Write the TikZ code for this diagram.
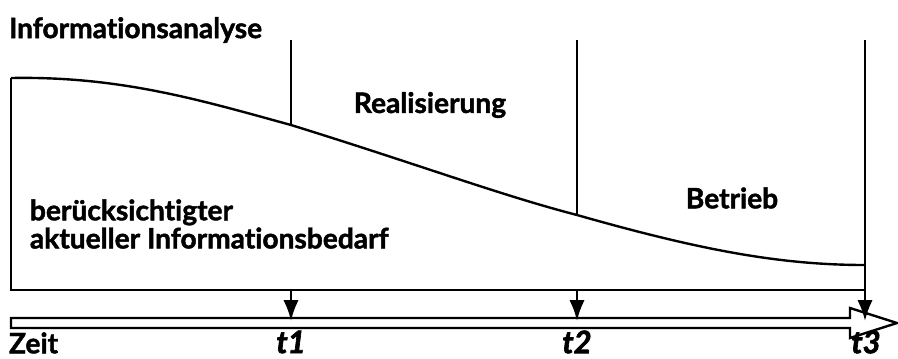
\documentclass[tikz,border=0pt]{standalone}
\usepackage{fontspec}
\setmainfont{Lato}[Ligatures=NoCommon, BoldFeatures={FakeBold=1.6},
    BoldItalicFeatures={FakeBold=2.2}]
\usetikzlibrary{arrows.meta}
\tikzset{
    phase/diagram/.style={
        x=0.025cm, y=-0.025cm,
        line width=1.7pt,
        line cap=butt,
        line join=miter,
        every node/.style={inner sep=0pt, outer sep=0pt}
    },
    phase/label/.style={font=\fontsize{20}{20}\selectfont\bfseries},
    phase/tick/.style={font=\fontsize{22}{24}\selectfont\bfseries\itshape},
    phase/mark/.style={
        line width=1.7pt,
        -{Latex[length=0.52cm, width=0.38cm]}
    }
}
\begin{document}
\begin{tikzpicture}[phase/diagram]
    \useasboundingbox (0,0) rectangle (898,358);
    % border points of the three phases
    \coordinate (top1) at (291,40);
    \coordinate (top2) at (577,40);
    \coordinate (top3) at (865,40);
    \coordinate (cut1) at (291,125);
    \coordinate (cut2) at (577,215);
    \coordinate (base1) at (291,290);
    \coordinate (base2) at (577,290);
    \coordinate (base3) at (865,290);
    \coordinate (bar1) at (291,321);
    \coordinate (bar2) at (577,321);
    \coordinate (bar3) at (865,321);
    % area of the covered information need
    \draw (11,78) .. controls (120,76) and (200,100) .. (cut1)
        .. controls (420,165) and (500,195) .. (cut2)
        .. controls (700,250) and (780,265) .. (865,265);
    \draw (11,78) -- (11,290) -- (base3);
    \draw (top1) -- (cut1);
    \draw (top2) -- (cut2);
    \draw (top3) -- (base3);
    % time axis
    \draw (11,318) -- (850,318) -- (850,308) -- (897,323)
        -- (850,338) -- (850,328) -- (11,328) -- cycle;
    \draw[phase/mark] (base1) -- (bar1);
    \draw[phase/mark] (base2) -- (bar2);
    \draw[phase/mark] (base3) -- (bar3);
    % labels
    \node[phase/label, anchor=west] (analyse) at (9,30) {Informationsanalyse};
    \node[phase/label] (real) at (430,105) {Realisierung};
    \node[phase/label] (betrieb) at (732,198) {Betrieb};
    \node[phase/label, anchor=west, align=left] (bedarf) at (30,224)
        {berücksichtigter\\aktueller Informationsbedarf};
    \node[phase/label, anchor=west] (zeit) at (9,343) {Zeit};
    \node[phase/tick] (t1) at (291,342) {t1};
    \node[phase/tick] (t2) at (577,342) {t2};
    \node[phase/tick] (t3) at (866,342) {t3};
\end{tikzpicture}
\end{document}
